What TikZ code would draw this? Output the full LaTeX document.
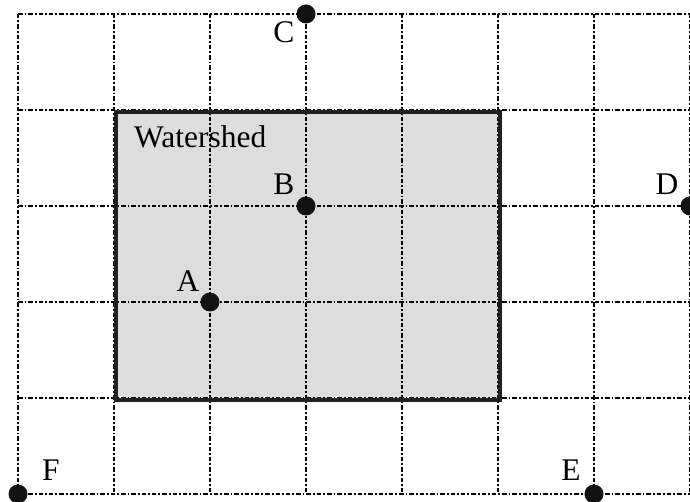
\documentclass[tikz,border=0pt]{standalone}
\usepackage{fontspec}
\setmainfont{Liberation Serif}
\definecolor{shedfill}{RGB}{221,221,221}
\definecolor{sheddraw}{RGB}{35,31,32}
\definecolor{dotcol}{RGB}{20,17,17}
\begin{document}
\begin{tikzpicture}[x=1pt,y=-1pt,
  gridline/.style={line width=1.7pt,dash pattern=on 4.5pt off 2pt on 1.8pt off 2pt,black},
  pt/.style={circle,fill=dotcol,inner sep=0pt,minimum size=19pt},
  lbl/.style={font=\fontsize{31.5}{36}\selectfont,inner sep=0pt}]
\useasboundingbox (0,0) rectangle (690,502);
\fill[shedfill] (114,110) rectangle (498,398);
\foreach \x in {18,114,210,306,402,498,594,690} \draw[gridline] (\x,14) -- (\x,494);
\foreach \y in {14,110,206,302,398,494} \draw[gridline] (18,\y) -- (690,\y);
\node[minimum width=384pt,minimum height=288pt,anchor=north west,inner sep=0pt,line width=3.6pt,draw=sheddraw] (ws) at (114,110) {};
\node[lbl,anchor=west] (wslbl) at (134,137) {Watershed};
\node[pt] (A) at (210,302) {};
\node[pt] (B) at (306,206) {};
\node[pt] (C) at (306,14) {};
\node[pt] (D) at (690,206) {};
\node[pt] (E) at (594,494) {};
\node[pt] (F) at (18,494) {};
\node[lbl] (Al) at (188,281) {A};
\node[lbl] (Bl) at (284,184) {B};
\node[lbl] (Cl) at (284,32) {C};
\node[lbl] (Dl) at (667,184) {D};
\node[lbl] (El) at (571,470) {E};
\node[lbl] (Fl) at (51,470) {F};
\end{tikzpicture}
\end{document}
